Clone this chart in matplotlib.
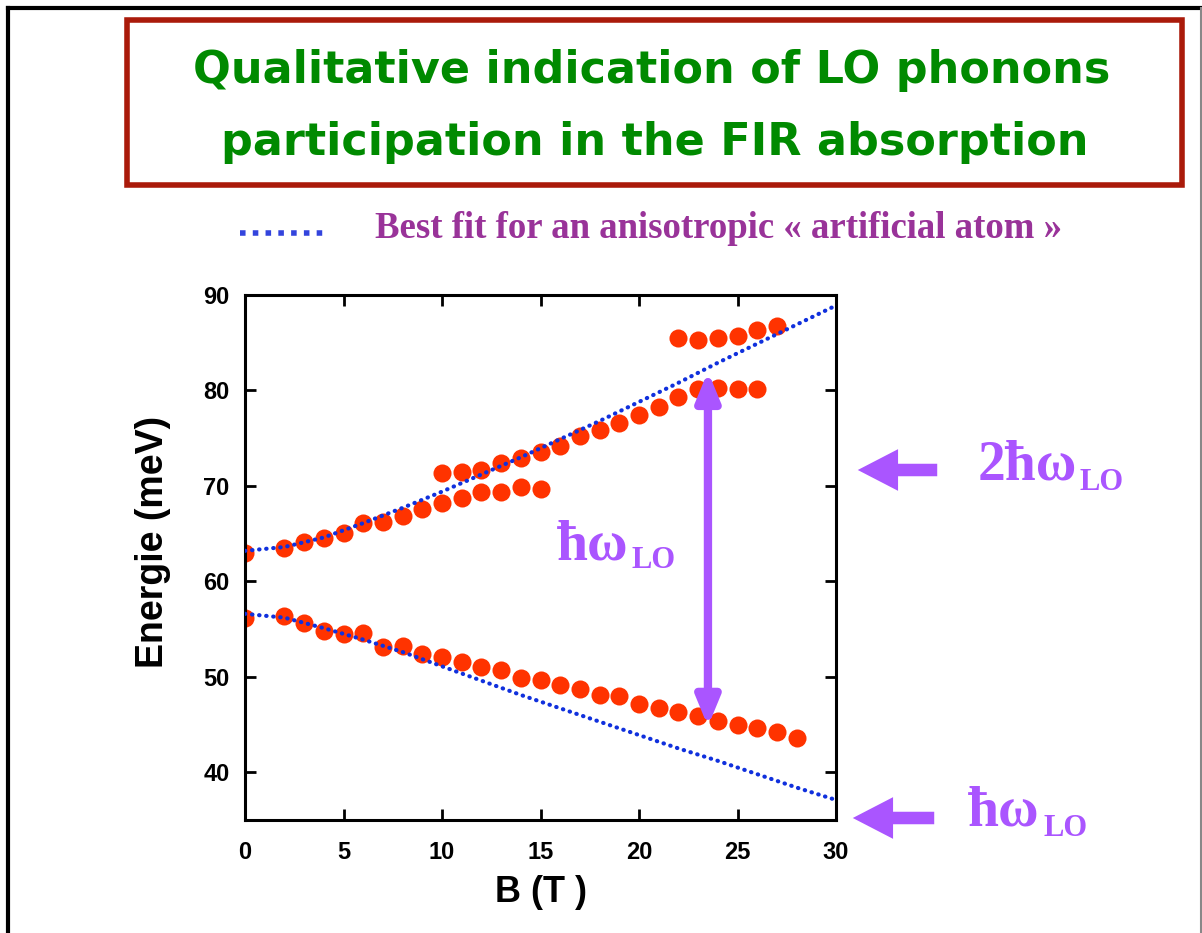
import numpy as np
import matplotlib.pyplot as plt
from matplotlib.patches import Rectangle, FancyArrowPatch
from matplotlib.lines import Line2D

# measured points (B in T, E in meV)
b_low = [0, 2, 3, 4, 5, 6, 7, 8, 9, 10, 11, 12, 13, 14, 15, 16, 17, 18, 19, 20,
         21, 22, 23, 24, 25, 26, 27, 28]
e_low = [56.2, 56.4, 55.6, 54.8, 54.5, 54.6, 53.1, 53.2, 52.4, 52.1, 51.6, 51.0,
         50.7, 49.9, 49.65, 49.1, 48.7, 48.1, 48.0, 47.1, 46.75, 46.3, 45.9, 45.35,
         45.0, 44.65, 44.2, 43.6]

b_up1 = [0, 2, 3, 4, 5, 6, 7, 8, 9, 10, 11, 12, 13, 14, 15]
e_up1 = [63.0, 63.5, 64.1, 64.5, 65.1, 66.1, 66.2, 66.8, 67.6, 68.2, 68.7, 69.4,
         69.4, 69.9, 69.7]

b_up2 = [10, 11, 12, 13, 14, 15, 16, 17, 18, 19, 20, 21, 22, 23, 24, 25, 26]
e_up2 = [71.3, 71.5, 71.7, 72.4, 72.9, 73.6, 74.2, 75.2, 75.9, 76.6, 77.4, 78.3,
         79.3, 80.2, 80.3, 80.1, 80.1]

b_up3 = [22, 23, 24, 25, 26, 27]
e_up3 = [85.5, 85.3, 85.5, 85.7, 86.3, 86.7]

# fit curves
b_fit = [0, 2, 4, 6, 8, 10, 12, 14, 16, 18, 20, 22, 24, 26, 28, 30]
e_fit_up = [63.2, 63.6, 64.6, 66.1, 67.7, 69.4, 71.2, 73.0, 74.9, 76.8, 78.8,
            80.8, 82.9, 84.9, 86.9, 88.9]
e_fit_low = [56.6, 56.2, 55.1, 53.9, 52.6, 51.1, 49.6, 48.1, 46.7, 45.3, 43.9,
             42.5, 41.2, 39.8, 38.4, 37.1]

purple = '#aa55ff'
red = '#ff3300'
blue = '#1030dd'

W, H = 1202, 933
fig = plt.figure(figsize=(W / 100, H / 100), dpi=100)

def fx(px):
    return px / W

def fy(py):
    return 1 - py / H

# outer slide frame
fig.add_artist(Line2D([fx(8), fx(8)], [0, fy(8)], color='black', lw=3))
fig.add_artist(Line2D([fx(8), 1], [fy(8), fy(8)], color='black', lw=3))
fig.add_artist(Line2D([fx(1201), fx(1201)], [0, fy(8)], color='#888888', lw=1.5))

# title box
fig.add_artist(Rectangle((fx(127), fy(185)), (1182 - 127) / W, (185 - 20) / H,
                         fill=False, edgecolor='#aa1a0a', lw=4))
fig.text(fx(652), fy(70), 'Qualitative indication of LO phonons',
         ha='center', va='center', color='#008a00', fontsize=32,
         fontweight='bold', family='DejaVu Sans')
fig.text(fx(655), fy(142), 'participation in the FIR absorption',
         ha='center', va='center', color='#008a00', fontsize=32,
         fontweight='bold', family='DejaVu Sans')

# legend line + text
fig.add_artist(Line2D([fx(240), fx(326)], [fy(233), fy(233)], color='#3344dd',
                      lw=4, ls=(0, (1, 1.3))))
fig.text(fx(375), fy(228), 'Best fit for an anisotropic « artificial atom »',
         ha='left', va='center', color='#993399', fontsize=26.5, fontweight='bold',
         family='Liberation Serif')

ax = fig.add_axes([fx(245), fy(820), (836 - 245) / W, (820 - 295) / H])

ax.plot(b_fit, e_fit_up, color=blue, lw=3.0, ls=(0, (0.1, 1.6)), dash_capstyle='round', zorder=3)
ax.plot(b_fit, e_fit_low, color=blue, lw=3.0, ls=(0, (0.1, 1.6)), dash_capstyle='round', zorder=3)

for bx, ey in [(b_low, e_low), (b_up1, e_up1), (b_up2, e_up2), (b_up3, e_up3)]:
    ax.plot(bx, ey, 'o', color=red, markersize=13, markeredgewidth=0, zorder=2)

# double arrow
ax.annotate('', xy=(23.5, 82.0), xytext=(23.5, 44.8),
            arrowprops=dict(arrowstyle='<|-|>,head_length=1.7,head_width=0.7',
                            color=purple, lw=6, shrinkA=0, shrinkB=0), zorder=4)

ax.set_xlim(0, 30)
ax.set_ylim(35, 90)
ax.set_xticks([0, 5, 10, 15, 20, 25, 30])
ax.set_yticks([40, 50, 60, 70, 80, 90])
ax.tick_params(direction='in', length=8, width=2, top=True, right=True, labelsize=17)
ax.tick_params(axis='x', pad=15)
ax.tick_params(axis='y', pad=11)
for lab in ax.get_xticklabels() + ax.get_yticklabels():
    lab.set_fontweight('bold')
    lab.set_family('Liberation Sans')
for s in ax.spines.values():
    s.set_linewidth(2.2)
ax.set_xlabel('B (T )', fontsize=26, fontweight='bold', family='Liberation Sans')
ax.set_ylabel('Energie (meV)', fontsize=27, fontweight='bold', family='Liberation Sans')
ax.xaxis.set_label_coords(0.5, -0.105)
ax.yaxis.set_label_coords(-0.125, 0.53)

# phonon labels
def phonon(x, y, main, x_lo):
    fig.text(fx(x), fy(y), main, ha='left', va='center', color=purple,
             fontsize=40, fontweight='bold', family='Liberation Serif')
    fig.text(fx(x_lo), fy(y + 16), 'LO', ha='left', va='center', color=purple,
             fontsize=22, fontweight='bold', family='Liberation Serif')

phonon(557, 545, 'ħω', 632)
phonon(978, 466, '2ħω', 1080)
phonon(968, 812, 'ħω', 1043)

# side arrows
for x0, x1, y in [(940, 855, 470), (937, 850, 818)]:
    fig.add_artist(FancyArrowPatch((fx(x0), fy(y)), (fx(x1), fy(y)),
                                   transform=fig.transFigure,
                                   arrowstyle='simple,head_length=1.45,head_width=1.5,tail_width=0.45',
                                   mutation_scale=20, color=purple, lw=0))

fig.savefig('out.png', dpi=100)
